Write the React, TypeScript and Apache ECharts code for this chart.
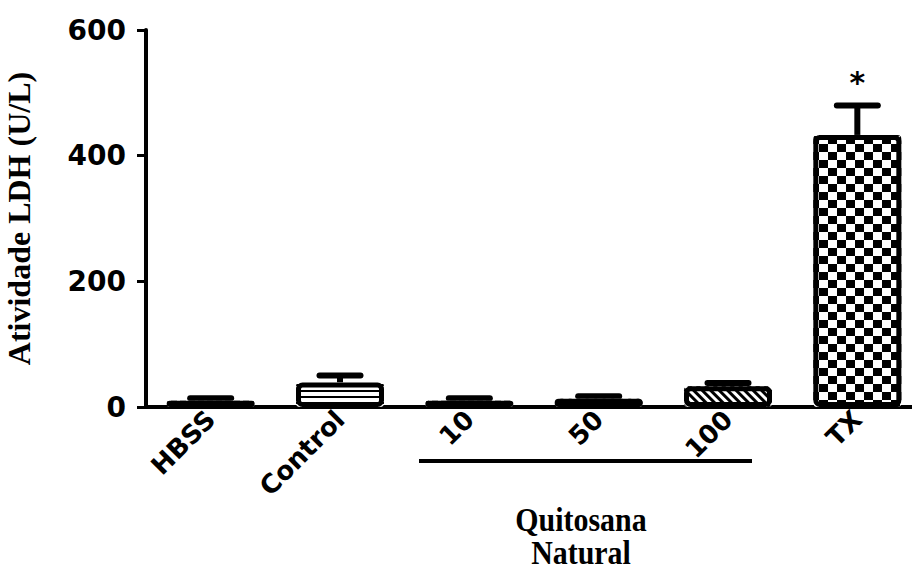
import React, { useEffect, useRef } from "react";
import * as echarts from "echarts";

// Group labels along the category axis
const categories = ["HBSS", "Control", "10", "50", "100", "TX"];
// Mean LDH activity (U/L) per group and the upper SEM
const ldhMeans = [10, 39, 10, 13, 33, 433];
const ldhErrors = [4, 11, 4, 4, 5, 47];
// Significance marks drawn above the error caps
const significance = ["", "", "", "", "", "*"];
// Value-axis range and step
const yMin = 0;
const yMax = 600;
const yStep = 200;

const yTitle = "Atividade LDH (U/L)";
const groupTitle = "Quitosana\nNatural";

const INK = "#000000";
const SANS = '"DejaVu Sans", sans-serif';
const SERIF = '"Liberation Serif", "Times New Roman", serif';

// Black-and-white fill patterns, one per bar
const decals: any[] = [
  { symbol: "rect", symbolKeepAspect: false, color: INK, dashArrayX: [6, 3], dashArrayY: [2, 3] },
  { symbol: "rect", symbolKeepAspect: false, color: INK, dashArrayX: [1, 0], dashArrayY: [2, 4] },
  { symbol: "rect", symbolKeepAspect: false, color: INK, dashArrayX: [6, 3], dashArrayY: [2, 3] },
  { symbol: "rect", symbolKeepAspect: false, color: INK, dashArrayX: [1, 0], dashArrayY: [2, 4], rotation: -Math.PI / 4 },
  { symbol: "rect", symbolKeepAspect: false, color: INK, dashArrayX: [1, 0], dashArrayY: [3, 3], rotation: Math.PI / 4 },
  { symbol: "rect", symbolKeepAspect: false, color: INK, dashArrayX: [[9, 9], [0, 9, 9, 0]], dashArrayY: [8, 0] },
];

export default function App() {
  const ref = useRef<HTMLDivElement>(null);

  useEffect(() => {
    if (!ref.current) return;
    const chart = echarts.init(ref.current, undefined, { renderer: "svg" });

    const errorData = categories.map((_, i) => [i, ldhMeans[i], ldhErrors[i]]);

    chart.setOption({
      animation: false,
      backgroundColor: "#ffffff",
      // the plot area runs slightly past the right edge, so the last bar sits close to it
      grid: {
        left: 146,
        width: 776,
        top: 30,
        bottom: 165,
        containLabel: false,
        outerBoundsMode: "none",
      },
      xAxis: {
        type: "category",
        data: categories,
        axisLine: { lineStyle: { color: INK, width: 4 } },
        axisTick: { alignWithLabel: true, length: 9, lineStyle: { color: INK, width: 3 } },
        axisLabel: {
          interval: 0,
          rotate: 45,
          margin: 8,
          color: INK,
          fontFamily: SANS,
          fontWeight: "bold",
          fontSize: 26,
        },
      },
      yAxis: {
        type: "value",
        min: yMin,
        max: yMax,
        interval: yStep,
        name: yTitle,
        nameLocation: "middle",
        nameRotate: 90,
        nameGap: 111,
        nameTextStyle: { color: INK, fontFamily: SERIF, fontWeight: "bold", fontSize: 32 },
        axisLine: { show: true, lineStyle: { color: INK, width: 4 } },
        axisTick: { show: true, length: 9, lineStyle: { color: INK, width: 3 } },
        splitLine: { show: false },
        axisLabel: {
          margin: 20,
          color: INK,
          fontFamily: SANS,
          fontWeight: "bold",
          fontSize: 28,
        },
      },
      series: [
        {
          type: "custom",
          name: "SEM",
          data: errorData,
          encode: { x: 0, y: 1 },
          renderItem: (params: any, api: any) => {
            const i = api.value(0);
            const m = api.value(1);
            const e = api.value(2);
            const base = api.coord([i, m]);
            const top = api.coord([i, m + e]);
            const half = 20.5;
            const children: any[] = [
              {
                type: "line",
                shape: { x1: base[0], y1: base[1], x2: top[0], y2: top[1] },
                style: { stroke: INK, lineWidth: 6 },
              },
              {
                type: "line",
                shape: { x1: top[0] - half, y1: top[1], x2: top[0] + half, y2: top[1] },
                style: { stroke: INK, lineWidth: 6, lineCap: "round" },
              },
            ];
            const mark = significance[params.dataIndex];
            if (mark) {
              children.push({
                type: "text",
                x: top[0],
                y: top[1] - 23,
                style: {
                  text: mark,
                  fill: INK,
                  font: `bold 30px ${SANS}`,
                  align: "center",
                  verticalAlign: "middle",
                },
              });
            }
            return { type: "group", children };
          },
        },
        {
          type: "bar",
          name: "fill",
          barWidth: 88,
          data: ldhMeans.map((v, i) => ({
            value: v,
            itemStyle: { color: "#ffffff", decal: decals[i], borderRadius: 4 },
          })),
        },
        {
          type: "bar",
          name: "outline",
          barWidth: 88,
          barGap: "-100%",
          data: ldhMeans,
          itemStyle: {
            color: "rgba(0,0,0,0)",
            borderColor: INK,
            borderWidth: 5,
            borderRadius: 4,
          },
        },
      ],
      graphic: [
        {
          type: "line",
          shape: { x1: 419, y1: 461, x2: 752, y2: 461 },
          style: { stroke: INK, lineWidth: 4 },
        },
        {
          type: "text",
          x: 581,
          y: 503,
          scaleX: 0.88,
          style: {
            text: groupTitle,
            fill: INK,
            font: `bold 34px ${SERIF}`,
            lineHeight: 33,
            align: "center",
            verticalAlign: "top",
          },
        },
      ],
    });

    return () => chart.dispose();
  }, []);

  return (
    <div
      ref={ref}
      style={{ position: "fixed", left: 0, top: 0, width: 912, height: 572, background: "#fff" }}
    />
  );
}
